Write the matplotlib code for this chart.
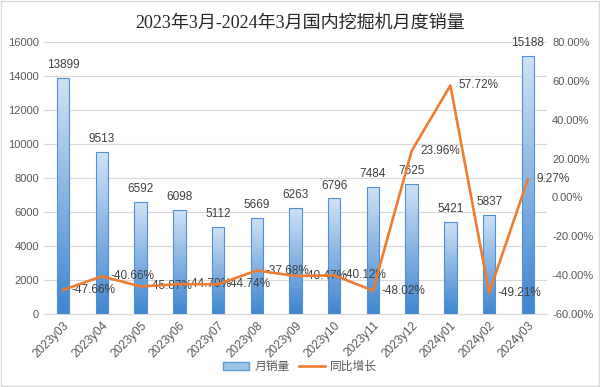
import matplotlib
matplotlib.use("Agg")
import matplotlib.pyplot as plt
import numpy as np
from matplotlib.colors import LinearSegmentedColormap
from matplotlib.lines import Line2D
from matplotlib.patches import Rectangle

plt.rcParams['font.family'] = ['Liberation Sans', 'Noto Sans CJK SC', 'DejaVu Sans']

months = ["2023y03", "2023y04", "2023y05", "2023y06", "2023y07", "2023y08", "2023y09",
          "2023y10", "2023y11", "2023y12", "2024y01", "2024y02", "2024y03"]
sales = [13899, 9513, 6592, 6098, 5112, 5669, 6263, 6796, 7484, 7625, 5421, 5837, 15188]
growth = [-47.66, -40.66, -45.87, -44.70, -44.74, -37.68, -40.47, -40.12, -48.02,
          23.96, 57.72, -49.21, 9.27]

grey = "#595959"
fig = plt.figure(figsize=(6, 3.87), dpi=100)
ax = fig.add_axes([0.073, 0.189, 0.839, 0.702])
ax2 = ax.twinx()

x = np.arange(len(months))
# excel style gradient: darker at the bottom, light at the top
cmap = LinearSegmentedColormap.from_list("bar", ["#3f86d0", "#cfe2f5"])
grad = np.linspace(0, 1, 256).reshape(-1, 1)
bars = ax.bar(x, sales, width=0.32, color="none", edgecolor="#4f8fd3", linewidth=0.8, zorder=3)
for b in bars:
    x0, y0 = b.get_xy()
    im = ax.imshow(grad, extent=[x0, x0 + b.get_width(), y0, y0 + b.get_height()],
                   origin="lower", cmap=cmap, aspect="auto", zorder=2)
    im.set_clip_path(b)
for xi, v in zip(x, sales):
    ax.annotate(str(v), (xi, v), xytext=(0, 5), textcoords="offset points",
                ha="center", va="bottom", fontsize=8.5, color="#404040")

ax.set_xlim(-0.5, len(months) - 0.5)
ax.set_ylim(0, 16000)
ax.set_yticks(np.arange(0, 16001, 2000))
ax.yaxis.grid(True, color="#d9d9d9", linewidth=0.8)
ax.set_axisbelow(True)
ax.set_xticks(x, months, rotation=45, ha="right", rotation_mode="anchor")
ax.tick_params(axis="y", length=0, labelsize=8, labelcolor=grey)
ax.tick_params(axis="x", length=0, labelsize=8.5, labelcolor=grey, pad=4)
for s in ["top", "left", "right"]:
    ax.spines[s].set_visible(False)
ax.spines["bottom"].set_color("#d9d9d9")

ax2.plot(x, growth, color="#ed7d31", linewidth=1.9, zorder=5)
for xi, v in zip(x, growth):
    ax2.annotate(f"{v:.2f}%", (xi, v), xytext=(6, 0), textcoords="offset points",
                 ha="left", va="center", fontsize=8.5, color="#404040")
ax2.set_ylim(-60, 80)
ax2.set_yticks(np.arange(-60, 81, 20))
ax2.set_yticklabels([f"{t:.2f}%" for t in np.arange(-60, 81, 20)])
ax2.tick_params(axis="y", length=0, labelsize=8, labelcolor=grey)
for s in ax2.spines.values():
    s.set_visible(False)

fig.text(0.5, 0.94, "2023年3月-2024年3月国内挖掘机月度销量",
         family=["Liberation Serif", "Noto Sans CJK SC"], fontsize=13,
         ha="center", va="center", color="#262626")

handles = [Rectangle((0, 0), 1, 1, facecolor="#9dc3e6", edgecolor="#5b9bd5"),
           Line2D([], [], color="#ed7d31", linewidth=1.9)]
fig.legend(handles, ["月销量", "同比增长"], loc="center", bbox_to_anchor=(0.5, 0.052),
           ncol=2, frameon=False, fontsize=8.5, labelcolor=grey,
           handlelength=2.2, columnspacing=0.8, handletextpad=0.4)

fig.patches.append(Rectangle((0.002, 0.003), 0.996, 0.994, transform=fig.transFigure,
                             fill=False, edgecolor="#d9d9d9", linewidth=1))

fig.savefig("out.png", dpi=100)
